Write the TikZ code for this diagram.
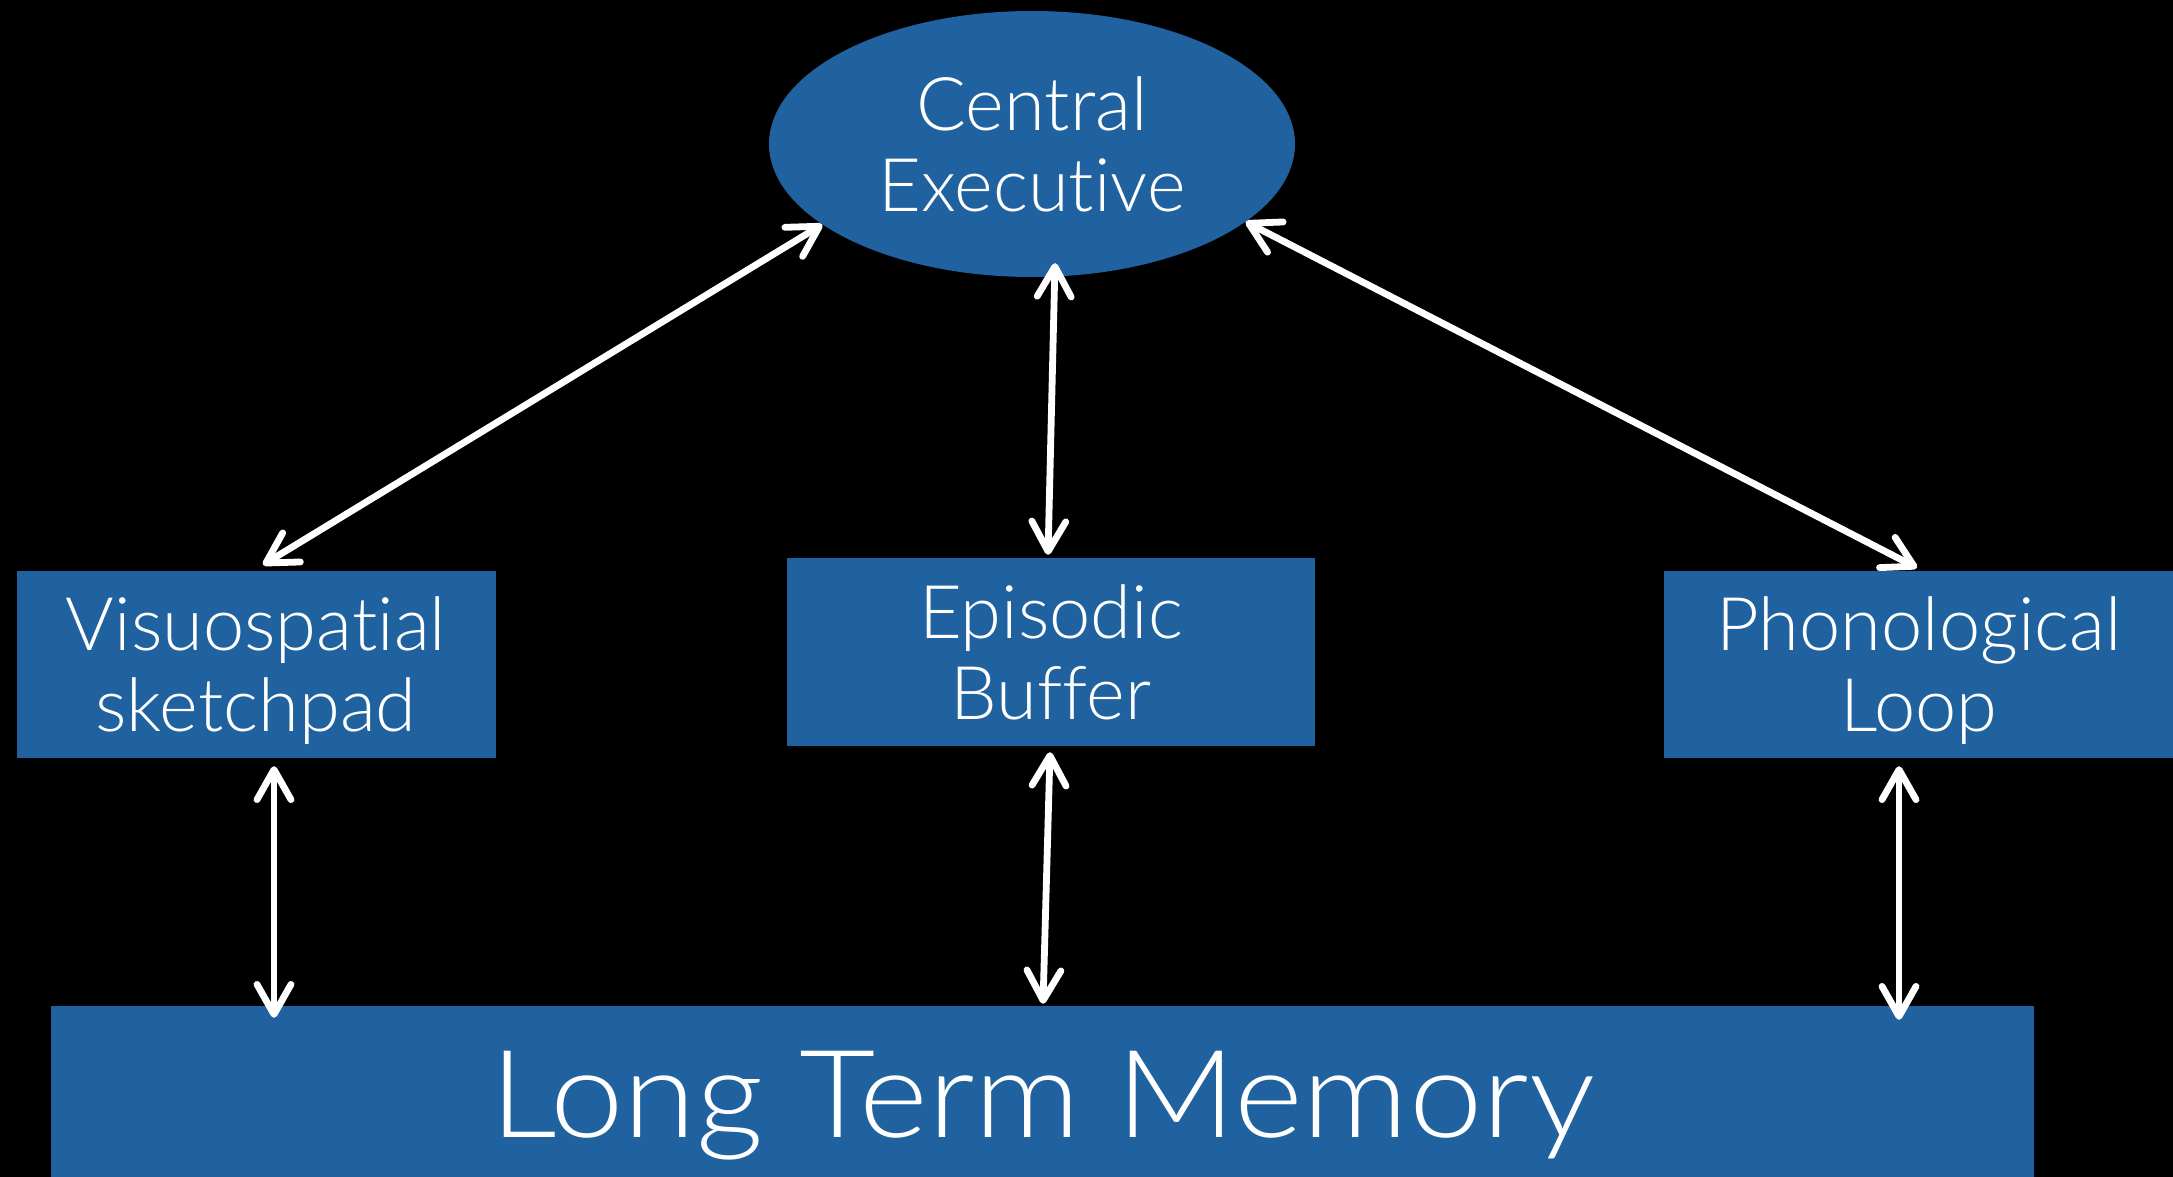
\documentclass[tikz,border=0pt]{standalone}
\usepackage{fontspec}
\setmainfont{Lato Light}[Ligatures={NoCommon}]
\newfontfamily\widelight{Lato Light}[Ligatures={NoCommon},FakeStretch=1.08]
\usetikzlibrary{arrows.meta,shapes.geometric,calc}
\definecolor{wmblue}{RGB}{31,98,159}
\begin{document}
\begin{tikzpicture}[x=1pt,y=-1pt,
  box/.style={fill=wmblue, inner sep=0pt, text=white, align=center,
    text depth=0pt, font=\fontsize{74}{81}\selectfont},
  barb/.tip={Straight Barb[length=30pt,width=34pt,round]},
  link/.style={draw=white, line width=6.8pt, barb-barb}
]
% black backdrop, also fixing the page size
\fill[black] (0,0) rectangle (2173,1177);
\useasboundingbox (0,0) rectangle (2173,1177);

% components of the working memory model
\node[box, ellipse, minimum width=526pt, minimum height=266pt] (ce) at (1032,144) {Central\\Executive};
\node[box, minimum width=479pt, minimum height=187pt] (vs) at (256,664.5) {Visuospatial\\sketchpad};
\node[box, minimum width=528pt, minimum height=188pt] (eb) at (1051,652) {Episodic\\Buffer};
\node[box, minimum width=510pt, minimum height=187pt] (pl) at (1919,664.5) {Phonological\\Loop};
\node[box, minimum width=1983pt, minimum height=177pt, font=\widelight\fontsize{122}{130}\selectfont] (ltm) at (1042.5,1094.5) {Long Term Memory};

% two-way links to the central executive
\draw[link] ([xshift=7pt,yshift=6pt]vs.north) -- (ce.201);
\draw[link] ([xshift=23pt,yshift=14pt]ce.south) -- ([xshift=-3pt,yshift=3pt]eb.north);
\draw[link] (ce.340) -- ([xshift=-2pt,yshift=3pt]pl.north);

% two-way links to long term memory
\draw[link] ([xshift=18pt,yshift=-8pt]vs.south) coordinate (vsb) -- ($(vsb |- ltm.north)+(0,12)$);
\draw[link] ([xshift=-1pt,yshift=-6pt]eb.south) coordinate (ebb) -- ($(ebb |- ltm.north)+(-7,-2)$);
\draw[link] ([xshift=-20pt,yshift=-8pt]pl.south) coordinate (plb) -- ($(plb |- ltm.north)+(0,14)$);
\end{tikzpicture}
\end{document}
